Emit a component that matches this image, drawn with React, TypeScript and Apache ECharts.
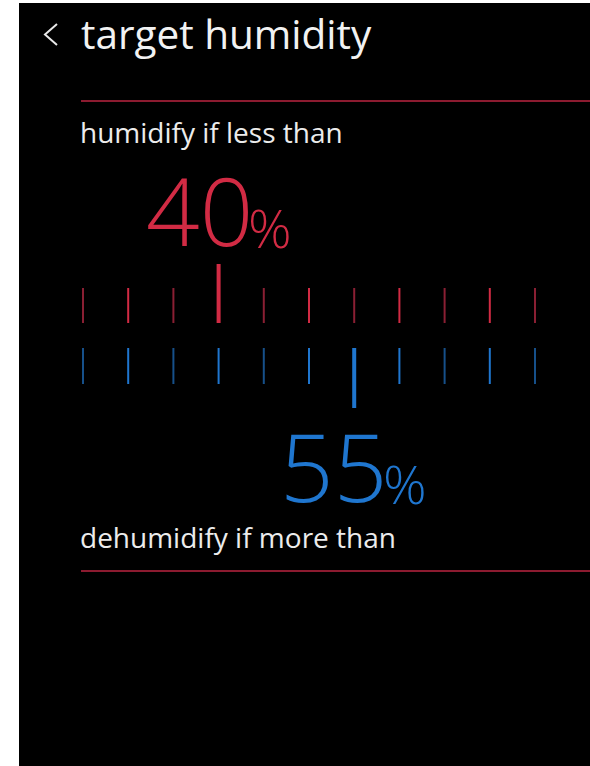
import React, { useEffect, useRef } from 'react';
import * as echarts from 'echarts';

const tickValues = [25, 30, 35, 40, 45, 50, 55, 60, 65, 70, 75];
const humidifyBelow = 40;
const dehumidifyAbove = 55;
const titleText = 'target humidity';
const humidifyLabel = 'humidify if less than';
const dehumidifyLabel = 'dehumidify if more than';
const unitText = '%';

const RED = '#d22b44';
const RED_DIM = '#8a1f33';
const BLUE = '#1f76cf';
const BLUE_DIM = '#16508a';
const LINE_RED = '#8c1b30';
const FONT = '"Open Sans", "Noto Sans", sans-serif';

function makeRender(selected: number, bright: string, dim: string, smallFrac: number) {
  return (params: any, api: any) => {
    const v = api.value(0);
    const isSel = v === selected;
    const base = api.coord([v, 0]);
    const tip = api.coord([v, isSel ? 1 : smallFrac]);
    const w = isSel ? 4 : 2;
    const y = Math.min(base[1], tip[1]);
    const h = Math.abs(tip[1] - base[1]);
    const color = isSel || v % 10 === 0 ? bright : dim;
    return {
      type: 'rect',
      shape: { x: base[0] - w / 2, y, width: w, height: h },
      style: { fill: color },
    };
  };
}

export default function App() {
  const ref = useRef<HTMLDivElement>(null);
  useEffect(() => {
    document.body.style.margin = '0';
    const chart = echarts.init(ref.current!, null, { renderer: 'svg' });
    const data = tickValues.map((v) => [v]);
    chart.setOption({
      animation: false,
      backgroundColor: 'transparent',
      grid: [
        { left: 83, right: 55, top: 264, height: 59 },
        { left: 83, right: 55, top: 348, height: 60 },
      ],
      xAxis: [
        { type: 'value', gridIndex: 0, min: 25, max: 75, show: false },
        { type: 'value', gridIndex: 1, min: 25, max: 75, show: false },
      ],
      yAxis: [
        { type: 'value', gridIndex: 0, min: 0, max: 1, show: false },
        { type: 'value', gridIndex: 1, min: 0, max: 1, show: false, inverse: true },
      ],
      series: [
        {
          type: 'custom',
          xAxisIndex: 0,
          yAxisIndex: 0,
          data,
          renderItem: makeRender(humidifyBelow, RED, RED_DIM, 35 / 59),
          z: 10,
        },
        {
          type: 'custom',
          xAxisIndex: 1,
          yAxisIndex: 1,
          data,
          renderItem: makeRender(dehumidifyAbove, BLUE, BLUE_DIM, 36 / 60),
          z: 10,
        },
      ],
      graphic: [
        { type: 'rect', z: -10, shape: { x: 19, y: 3, width: 571, height: 763 }, style: { fill: '#000' } },
        {
          type: 'polyline',
          shape: { points: [[57, 24], [45, 34.5], [57, 45]] },
          style: { stroke: '#e8e8e8', lineWidth: 2, fill: 'none' },
        },
        {
          type: 'text', x: 81, y: 33.5,
          style: { text: titleText, fill: '#f2f2f2', font: `400 40.5px ${FONT}`, verticalAlign: 'middle' },
        },
        { type: 'line', shape: { x1: 81, y1: 101, x2: 590, y2: 101 }, style: { stroke: LINE_RED, lineWidth: 2 } },
        {
          type: 'text', x: 80, y: 131.5,
          style: { text: humidifyLabel, fill: '#ececec', font: `400 28px ${FONT}`, verticalAlign: 'middle' },
        },
        {
          type: 'text', x: 146, y: 210,
          style: { text: String(humidifyBelow), fill: RED, font: `200 94px ${FONT}`, verticalAlign: 'middle' },
        },
        {
          type: 'text', x: 248, y: 227,
          style: { text: unitText, fill: RED, font: `300 54px ${FONT}`, verticalAlign: 'middle' },
        },
        {
          type: 'text', x: 280, y: 466,
          style: { text: String(dehumidifyAbove), fill: BLUE, font: `200 94px ${FONT}`, verticalAlign: 'middle' },
        },
        {
          type: 'text', x: 383, y: 483,
          style: { text: unitText, fill: BLUE, font: `300 54px ${FONT}`, verticalAlign: 'middle' },
        },
        {
          type: 'text', x: 80, y: 536.5,
          style: { text: dehumidifyLabel, fill: '#ececec', font: `400 28px ${FONT}`, verticalAlign: 'middle' },
        },
        { type: 'line', shape: { x1: 81, y1: 571, x2: 590, y2: 571 }, style: { stroke: LINE_RED, lineWidth: 2 } },
      ],
    });
    return () => chart.dispose();
  }, []);
  return <div ref={ref} style={{ width: 590, height: 766 }} />;
}
